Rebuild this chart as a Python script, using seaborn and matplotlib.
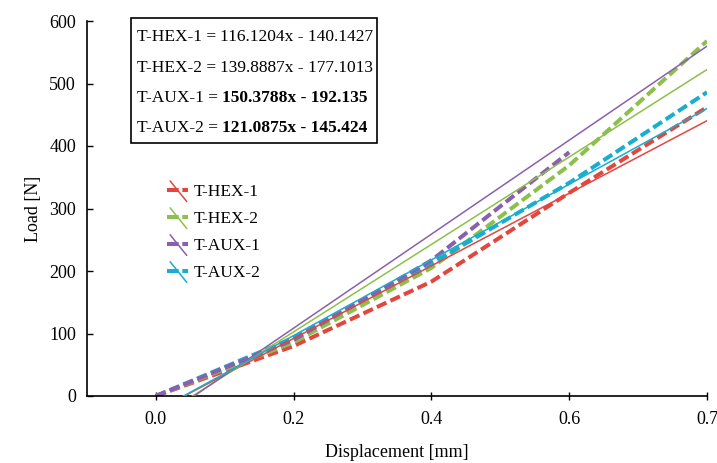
import numpy as np
import pandas as pd
import matplotlib
matplotlib.use("Agg")
import matplotlib.pyplot as plt
import seaborn as sns
from matplotlib.lines import Line2D
from matplotlib.legend_handler import HandlerBase
from matplotlib.patches import Rectangle

# ---------------- data ----------------
series = ["T-HEX-1", "T-HEX-2", "T-AUX-1", "T-AUX-2"]
colors = ["#E2473F", "#8CC04B", "#8A5FAD", "#17AECF"]
slots = [0.0, 0.2, 0.4, 0.6, 0.8]            # category slots on the x axis
tick_labels = ["0.0", "0.2", "0.4", "0.6", "0.7"]
hex1 = [0, 80, 183, 325, 462]
hex2 = [0, 86, 205, 369, 568]
aux1 = [0, 90, 217, 390]
aux2 = [0, 93, 212, 341, 486]
slopes = [116.1204, 139.8887, 150.3788, 121.0875]
intercepts = [-140.1427, -177.1013, -192.135, -145.424]
eq_num = ["116.1204x - 140.1427", "139.8887x - 177.1013",
          "150.3788x - 192.135", "121.0875x - 145.424"]
eq_bold = [False, False, True, True]

values = dict(zip(series, [hex1, hex2, aux1, aux2]))
rows = []
for s in series:
    for x, y in zip(slots, values[s]):
        rows.append((s, x, y))
df = pd.DataFrame(rows, columns=["series", "disp", "load"])

# trendlines from the printed equations (x = point index 1..5)
trows = []
for s, a, b in zip(series, slopes, intercepts):
    for i, x in enumerate(slots):
        trows.append((s, x, a * (i + 1) + b))
dft = pd.DataFrame(trows, columns=["series", "disp", "load"])

# ---------------- plot ----------------
sns.set_theme(style="white")
plt.rcParams["font.family"] = ["Liberation Serif", "DejaVu Serif"]
fig = plt.figure(figsize=(7.17, 4.63), dpi=100)
ax = fig.add_axes([87 / 717, 1 - 396 / 463, (707 - 87) / 717, (396 - 21) / 463])

pal = dict(zip(series, colors))
draw_order = ["T-HEX-1", "T-HEX-2", "T-AUX-2", "T-AUX-1"]
for z, s in enumerate(draw_order):
    sns.lineplot(data=df[df.series == s], x="disp", y="load", color=pal[s],
                 lw=2.9, linestyle=(0, (2.6, 1.1)), ax=ax, legend=False,
                 zorder=2 + z * 0.1, sort=False)
for s in series:
    sns.lineplot(data=dft[dft.series == s], x="disp", y="load", color=pal[s],
                 lw=1.1, ax=ax, legend=False, zorder=3, sort=False)

ax.set_xlim(-0.1, 0.8)
ax.set_ylim(0, 600)
ax.set_xticks(slots)
ax.set_xticklabels(tick_labels)
ax.set_yticks(np.arange(0, 601, 100))
for sp in ["top", "right"]:
    ax.spines[sp].set_visible(False)
for sp in ["left", "bottom"]:
    ax.spines[sp].set_color("black")
    ax.spines[sp].set_linewidth(1.2)
ax.tick_params(axis="x", direction="inout", length=6, width=1, pad=8,
               labelsize=13, colors="black", bottom=True)
ax.tick_params(axis="y", direction="in", length=4, width=1, pad=8,
               labelsize=13, colors="black", left=True)
ax.set_xlabel("Displacement [mm]", fontsize=13, color="black", labelpad=11)
ax.set_ylabel("Load [N]", fontsize=13, color="black", labelpad=5)
ax.grid(False)


# ---------------- legend ----------------
class HandlerTrend(HandlerBase):
    def create_artists(self, legend, orig_handle, xdescent, ydescent,
                       width, height, fontsize, trans):
        c = orig_handle.get_color()
        yc = height / 2 - ydescent
        x0, x1 = -xdescent, -xdescent + width
        dash = Line2D([x0, x1], [yc, yc], color=c, lw=2.9,
                      linestyle=(0, (2.9, 0.9)), transform=trans)
        diag = Line2D([x0 + width * 0.15, x1 - width * 0.05],
                      [yc + height * 0.75, yc - height * 0.95],
                      color=c, lw=1.1, transform=trans)
        return [dash, diag]


handles = [Line2D([], [], color=c) for c in colors]
leg = ax.legend(handles, series, handler_map={Line2D: HandlerTrend()},
                loc="upper left", bbox_to_anchor=((160 - 87) / 620, (396 - 177) / 375),
                frameon=False, fontsize=12.5, handlelength=1.2, handletextpad=0.35,
                labelspacing=0.62, borderaxespad=0)
for t in leg.get_texts():
    t.set_color("black")

# ---------------- equation box ----------------
box = Rectangle((131 / 717, 1 - 143 / 463), (377 - 131) / 717, (143 - 18) / 463,
                transform=fig.transFigure, fill=False, ec="black", lw=1.2,
                zorder=5)
fig.add_artist(box)
ys = [37, 68, 98, 128]
for s, num, bold, yp in zip(series, eq_num, eq_bold, ys):
    t1 = fig.text(137 / 717, 1 - yp / 463, f"{s} = ", fontsize=12.5,
                  va="center", ha="left", color="black")
    ax.annotate(num, xy=(1, 0), xycoords=t1, va="bottom", ha="left",
                fontsize=12.5, color="black",
                fontweight="bold" if bold else "normal",
                annotation_clip=False)

fig.savefig("out.png", dpi=100)
